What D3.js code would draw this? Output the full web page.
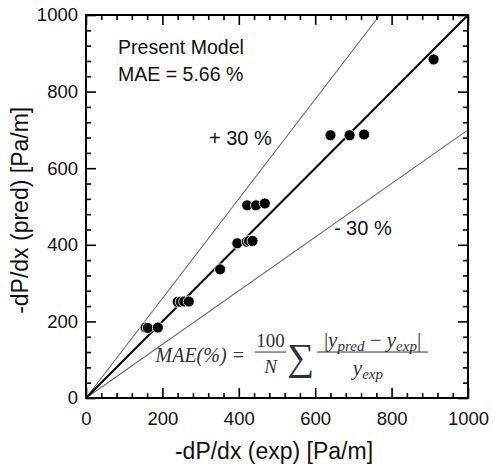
<!DOCTYPE html>
<html>
<head>
<meta charset="utf-8">
<script src="https://cdn.jsdelivr.net/npm/d3@7"></script>
<style>
  body { margin: 0; background: #fff; }
  text { font-family: "Liberation Sans", Arial, sans-serif; fill: #111; }
</style>
</head>
<body>
<div id="my_chart"></div>
<script>

// ======================= //
// DATA
// ======================= //

var expValues  = [156, 162, 188, 240, 248, 257, 269, 351, 396, 421, 427, 436, 422, 445, 468, 640, 690, 728, 910]
var predValues = [184, 183, 184, 251, 251, 252, 252, 336, 404, 408, 410, 410, 503, 503, 508, 686, 686, 688, 884]
var lineSlopes = [1.3, 0.7]
var majorTicks = [0, 200, 400, 600, 800, 1000]
var minorTicks = [40, 80, 120, 160, 240, 280, 320, 360, 440, 480, 520, 560, 640, 680, 720, 760, 840, 880, 920, 960]

// set the dimensions and margins of the graph
var margin = {top: 15, right: 25, bottom: 68, left: 86},
  width = 493 - margin.left - margin.right,
  height = 466 - margin.top - margin.bottom;

var svg = d3.select("#my_chart")
.append("svg")
  .attr("width", width + margin.left + margin.right)
  .attr("height", height + margin.top + margin.bottom)
.append("g")
  .attr("transform", "translate(" + margin.left + "," + margin.top + ")");

// ======================= //
// SCALES
// ======================= //

var x = d3.scaleLinear().domain([0, 1000]).range([0, width])
var y = d3.scaleLinear().domain([0, 1000]).range([height, 0])

// ======================= //
// REFERENCE LINES
// ======================= //

svg.selectAll(".band")
  .data(lineSlopes)
  .enter()
  .append("line")
    .attr("class", "band")
    .attr("x1", x(0))
    .attr("y1", y(0))
    .attr("x2", function(s){ return x(Math.min(1000, 1000 / s)) })
    .attr("y2", function(s){ return y(Math.min(1000, 1000 / s) * s) })
    .style("stroke", "#6b6b6b")
    .style("stroke-width", 1.1)

svg.append("line")
  .attr("x1", x(0)).attr("y1", y(0))
  .attr("x2", x(1000)).attr("y2", y(1000))
  .style("stroke", "#000")
  .style("stroke-width", 2)

// ======================= //
// POINTS
// ======================= //

svg.selectAll(".pt")
  .data(expValues)
  .enter()
  .append("circle")
    .attr("class", "pt")
    .attr("cx", function(d){ return x(d) })
    .attr("cy", function(d, i){ return y(predValues[i]) })
    .attr("r", 5.5)
    .style("fill", "#000")
    .style("stroke", "#fff")
    .style("stroke-width", 0.8)

// ======================= //
// AXES
// ======================= //

function styleAxis(g){
  g.select(".domain").remove()
  g.selectAll("line").style("stroke", "#000").style("stroke-width", 1.6)
  g.selectAll("text").style("font-size", "18.5px").style("fill", "#111")
    .style("font-family", "'Liberation Sans', Arial, sans-serif")
}

svg.append("g").attr("transform", "translate(0," + height + ")")
  .call(d3.axisBottom(x).tickValues(majorTicks).tickSize(-10).tickPadding(14).tickFormat(d3.format("d")))
  .call(styleAxis)
svg.append("g").attr("transform", "translate(0," + height + ")")
  .call(d3.axisBottom(x).tickValues(minorTicks).tickSize(-5).tickFormat(""))
  .call(styleAxis)
svg.append("g")
  .call(d3.axisTop(x).tickValues(majorTicks).tickSize(-10).tickFormat(""))
  .call(styleAxis)
svg.append("g")
  .call(d3.axisTop(x).tickValues(minorTicks).tickSize(-5).tickFormat(""))
  .call(styleAxis)

svg.append("g")
  .call(d3.axisLeft(y).tickValues(majorTicks).tickSize(-10).tickPadding(8).tickFormat(d3.format("d")))
  .call(styleAxis)
svg.append("g")
  .call(d3.axisLeft(y).tickValues(minorTicks).tickSize(-5).tickFormat(""))
  .call(styleAxis)
svg.append("g").attr("transform", "translate(" + width + ",0)")
  .call(d3.axisRight(y).tickValues(majorTicks).tickSize(-10).tickFormat(""))
  .call(styleAxis)
svg.append("g").attr("transform", "translate(" + width + ",0)")
  .call(d3.axisRight(y).tickValues(minorTicks).tickSize(-5).tickFormat(""))
  .call(styleAxis)

// frame
svg.append("rect")
  .attr("x", 0).attr("y", 0)
  .attr("width", width).attr("height", height)
  .style("fill", "none")
  .style("stroke", "#000")
  .style("stroke-width", 2)

// axis titles
svg.append("text")
  .attr("x", width / 2 - 3)
  .attr("y", height + 61)
  .style("text-anchor", "middle")
  .style("font-size", "23px")
  .text("-dP/dx (exp) [Pa/m]")

svg.append("text")
  .attr("transform", "translate(" + (-58) + "," + (y(490)) + ")rotate(-90)")
  .style("text-anchor", "middle")
  .style("font-size", "23px")
  .text("-dP/dx (pred) [Pa/m]")

// ======================= //
// ANNOTATIONS
// ======================= //

svg.append("text").attr("x", x(84)).attr("y", y(898))
  .style("font-size", "19.5px").text("Present Model")
svg.append("text").attr("x", x(84)).attr("y", y(828))
  .style("font-size", "19.5px").text("MAE = 5.66 %")
svg.append("text").attr("x", x(322)).attr("y", y(660))
  .style("font-size", "20px").text("+ 30 %")
svg.append("text").attr("x", x(649)).attr("y", y(425))
  .style("font-size", "20px").text("- 30 %")

// formula
var serif = "'Liberation Serif', 'DejaVu Serif', serif"
var ink = "#333"
var f = svg.append("g")

f.append("text").attr("x", x(182)).attr("y", y(95))
  .style("font-family", serif).style("font-size", "20px").style("font-style", "italic").style("fill", ink)
  .text("MAE(%) =")
f.append("text").attr("x", x(483)).attr("y", y(133))
  .style("font-family", serif).style("font-size", "19px")
  .style("text-anchor", "middle").style("fill", ink).text("100")
f.append("line").attr("x1", x(442)).attr("x2", x(524)).attr("y1", y(120)).attr("y2", y(120))
  .style("stroke", ink).style("stroke-width", 1)
f.append("text").attr("x", x(483)).attr("y", y(64))
  .style("font-family", serif).style("font-size", "19px").style("font-style", "italic")
  .style("text-anchor", "middle").style("fill", ink).text("N")
f.append("text").attr("x", x(527)).attr("y", y(72))
  .style("font-family", serif).style("font-size", "38px")
  .style("fill", ink).text("∑")

var num = f.append("text").attr("x", x(750)).attr("y", y(134))
  .style("font-family", serif).style("font-size", "21px").style("font-style", "italic")
  .style("text-anchor", "middle").style("fill", ink)
num.append("tspan").style("font-style", "normal").text("|")
num.append("tspan").text("y")
num.append("tspan").attr("dy", 4).style("font-size", "15px").text("pred")
num.append("tspan").attr("dy", -4).style("font-style", "normal").text(" − ")
num.append("tspan").text("y")
num.append("tspan").attr("dy", 4).style("font-size", "15px").text("exp")
num.append("tspan").attr("dy", -4).style("font-style", "normal").text("|")

f.append("line").attr("x1", x(605)).attr("x2", x(895)).attr("y1", y(120)).attr("y2", y(120))
  .style("stroke", ink).style("stroke-width", 1)

var den = f.append("text").attr("x", x(738)).attr("y", y(60))
  .style("font-family", serif).style("font-size", "21px").style("font-style", "italic")
  .style("text-anchor", "middle").style("fill", ink)
den.append("tspan").text("y")
den.append("tspan").attr("dy", 4).style("font-size", "15px").text("exp")

</script>
</body>
</html>
